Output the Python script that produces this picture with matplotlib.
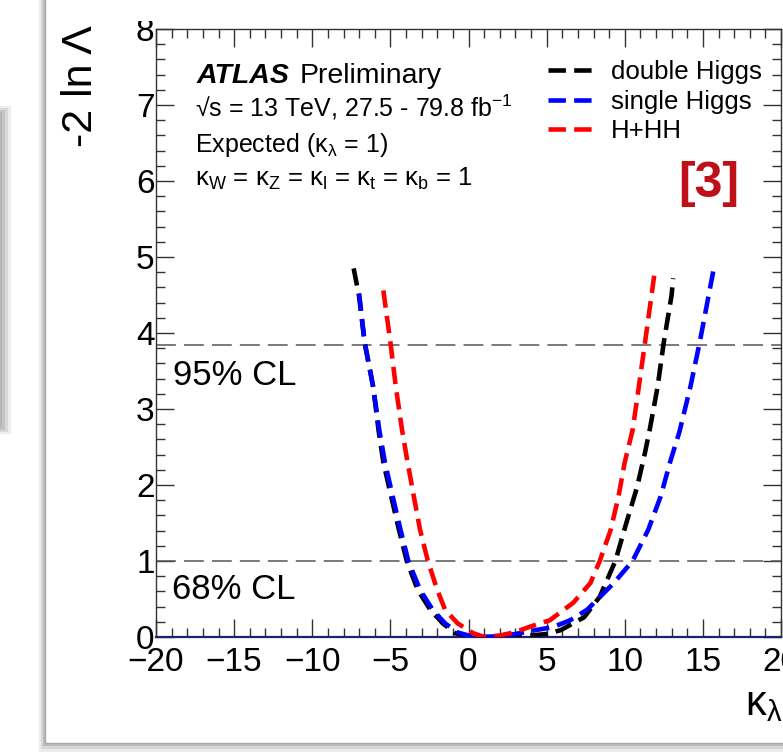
import matplotlib
matplotlib.use('Agg')
import matplotlib.pyplot as plt
from matplotlib.patches import Rectangle
from matplotlib.ticker import MultipleLocator

plt.rcParams['font.family'] = ['Liberation Sans', 'DejaVu Sans']
plt.rcParams['mathtext.default'] = 'regular'
plt.rcParams['mathtext.fontset'] = 'custom'
plt.rcParams['mathtext.rm'] = 'Liberation Sans'

# ---------------- data ----------------
hh_k = [-7.35, -7.0, -6.65, -6.1, -5.75, -5.45, -4.95, -4.45, -3.95, -3.25, -2.45, -1.65, -0.85,
        0.0, 1.0, 2.0, 3.0, 4.0, 5.0, 5.9, 7.4, 8.4, 9.4, 10.1, 10.8, 11.3, 11.6, 12.1, 12.5, 13.0, 13.1]
hh_y = [4.85, 4.48, 3.88, 3.29, 2.71, 2.30, 1.85, 1.41, 1.00, 0.62, 0.36, 0.18, 0.05,
        0.01, 0.0, 0.0, 0.0, 0.02, 0.04, 0.09, 0.26, 0.53, 1.00, 1.50, 1.98, 2.43, 2.73, 3.29, 3.88, 4.50, 4.72]

h_k = [-7.0, -6.65, -6.1, -5.7, -5.35, -4.85, -4.35, -3.85, -3.1, -2.3, -1.5, -0.7,
       0.0, 1.0, 2.0, 3.0, 4.0, 5.4, 6.5, 7.6, 9.3, 10.5, 11.5, 12.3, 12.9, 13.5, 14.2, 14.8, 15.7]
h_y = [4.52, 3.88, 3.29, 2.71, 2.30, 1.85, 1.41, 1.00, 0.62, 0.36, 0.18, 0.06,
       0.02, 0.0, 0.01, 0.04, 0.08, 0.13, 0.22, 0.36, 0.71, 1.00, 1.41, 1.85, 2.30, 2.70, 3.29, 3.88, 4.85]

comb_k = [-5.45, -5.0, -4.65, -4.25, -3.9, -3.5, -3.1, -2.6, -2.0, -1.5, -0.7, 0.3,
          1.0, 2.0, 2.9, 4.0, 5.2, 6.7, 7.8, 8.4, 9.1, 9.6, 10.0, 10.5, 10.9, 11.3, 11.95]
comb_y = [4.56, 3.88, 3.29, 2.72, 2.30, 1.85, 1.41, 1.00, 0.62, 0.36, 0.18, 0.05,
          0.0, 0.02, 0.06, 0.14, 0.22, 0.45, 0.71, 1.00, 1.41, 1.85, 2.30, 2.72, 3.29, 3.88, 4.85]

series_labels = ['double Higgs', 'single Higgs', 'H+HH']
series_colors = ['#000000', '#0000FF', '#FF0000']
cl_levels = [1.0, 3.84]
cl_labels = ['68% CL', '95% CL']

# ---------------- figure ----------------
W, H = 783, 752
fig = plt.figure(figsize=(W / 100, H / 100), dpi=100)
fig.patch.set_facecolor('white')


def fx(px):
    return px / W


def fy(py):
    return 1 - py / H


def rect(x0, y0, x1, y1, **kw):
    r = Rectangle((fx(x0), fy(y1)), fx(x1) - fx(x0), fy(y0) - fy(y1),
                  transform=fig.transFigure, **kw)
    fig.add_artist(r)
    return r


# neighbouring card on the left (its shadowed edge)
rect(-10, 106, 11, 434, facecolor='#eeeeee', edgecolor='none', zorder=-5)
rect(-10, 108, 8, 432, facecolor='#d8d8d8', edgecolor='none', zorder=-5)
rect(-10, 110, 5, 430, facecolor='#c4c4c4', edgecolor='none', zorder=-5)
rect(-10, 112, 2, 428, facecolor='#b4b4b4', edgecolor='none', zorder=-5)

# card with shadow
rect(39, -5, 800, 752, facecolor='#ececec', edgecolor='none', zorder=-4)
rect(41, -5, 800, 749, facecolor='#d6d6d6', edgecolor='none', zorder=-4)
rect(43, -5, 800, 746, facecolor='#bdbdbd', edgecolor='none', zorder=-4)
rect(45, -5, 800, 743, facecolor='white', edgecolor='#a8a8a8', lw=1.0, zorder=-3)

ax = fig.add_axes([fx(156), fy(637), fx(781) - fx(156), fy(29) - fy(637)])
ax.set_facecolor('none')

xs_list = [hh_k, h_k, comb_k]
ys_list = [hh_y, h_y, comb_y]
for xs, ys, lab, col in zip(xs_list, ys_list, series_labels, series_colors):
    ax.plot(xs, ys, color=col, lw=3.3, dashes=(3.8, 1.8), label=lab,
            solid_capstyle='butt', dash_capstyle='butt', zorder=3)

for lvl in cl_levels:
    ax.axhline(lvl, color='#555555', lw=1.1, dashes=(13, 5.3), zorder=2)

ax.set_xlim(-20, 20)
ax.set_ylim(0, 8)
ax.xaxis.set_major_locator(MultipleLocator(5))
ax.xaxis.set_minor_locator(MultipleLocator(1))
ax.yaxis.set_major_locator(MultipleLocator(1))
ax.yaxis.set_minor_locator(MultipleLocator(0.2))
ax.tick_params(which='both', direction='in', top=True, right=True,
               color='#333333', width=1.0)
ax.tick_params(which='major', length=13)
ax.tick_params(which='minor', length=6.5)
ax.tick_params(axis='x', which='major', labelsize=24, pad=7)
ax.tick_params(axis='y', which='major', labelsize=24, pad=1)
for s in ['left', 'top', 'right']:
    ax.spines[s].set_color('#333333')
    ax.spines[s].set_linewidth(1.0)
ax.spines['bottom'].set_color('#202070')
ax.spines['bottom'].set_linewidth(1.6)

# axis titles
fig.text(fx(81), fy(25), '-2 ln Λ', rotation=90, ha='center', va='top', fontsize=31)
fig.text(fx(745), fy(715), 'κ$_{λ}$', ha='left', va='baseline', fontsize=30)

# CL annotations
fig.text(fx(172), fy(599), cl_labels[0], ha='left', va='baseline', fontsize=25)
fig.text(fx(173), fy(385), cl_labels[1], ha='left', va='baseline', fontsize=25)

# ATLAS block
fig.text(fx(197), fy(83), 'ATLAS', ha='left', va='baseline', fontsize=20.5,
         fontweight='bold', fontstyle='italic')
fig.text(fx(300), fy(83), 'Preliminary', ha='left', va='baseline', fontsize=20.5)
fig.text(fx(195), fy(117), '√s = 13 TeV, 27.5 - 79.8 fb$^{-1}$', ha='left', va='baseline', fontsize=18)
fig.text(fx(195), fy(152), 'Expected (κ$_{λ}$ = 1)', ha='left', va='baseline', fontsize=18)
fig.text(fx(195), fy(186), 'κ$_{W}$ = κ$_{Z}$ = κ$_{l}$ = κ$_{t}$ = κ$_{b}$ = 1',
         ha='left', va='baseline', fontsize=18.5)

leg = ax.legend(loc='upper left', bbox_to_anchor=(fx(548), fy(60)),
                bbox_transform=fig.transFigure, frameon=False, fontsize=18.6,
                handlelength=1.95, handletextpad=0.5, labelspacing=0.22,
                borderpad=0, borderaxespad=0)

fig.text(fx(678), fy(197), '[3]', ha='left', va='baseline', fontsize=36,
         fontweight='bold', color='#BE1018',
         family=['Liberation Sans Narrow', 'Liberation Sans', 'DejaVu Sans'])

# crop of the top of the embedded picture
rect(47, 1.5, 790, 21, facecolor='white', edgecolor='none', zorder=10)

fig.savefig('out.png', dpi=100)
